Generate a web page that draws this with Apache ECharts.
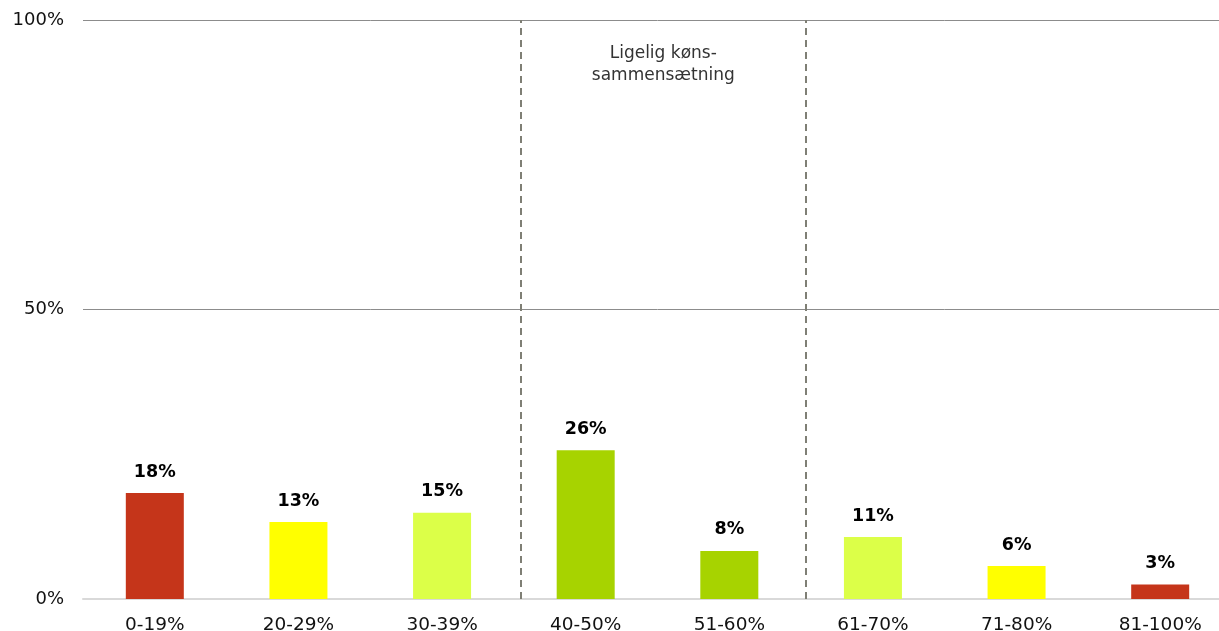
<!DOCTYPE html>
<html><head><meta charset="utf-8">
<script src="https://cdn.jsdelivr.net/npm/echarts@6/dist/echarts.min.js"></script>
<style>html,body{margin:0;padding:0;background:#fff;overflow:hidden}#c{width:1232px;height:631px}</style>
</head><body><div id="c"></div>
<script>
const categories = ['0-19%','20-29%','30-39%','40-50%','51-60%','61-70%','71-80%','81-100%'];
const values = [18.3, 13.3, 14.9, 25.7, 8.3, 10.7, 5.7, 2.5];
const barColors = ['#C5351A','#FFFF00','#DCFF48','#A7D300','#A7D300','#DCFF48','#FFFF00','#C5351A'];
const yTicks = [0, 50, 100];
const zoneBounds = [3.05, 5.03];
const zoneLabel = 'Ligelig køns-\nsammensætning';

const FONT = 'DejaVu Sans';
const chart = echarts.init(document.getElementById('c'));
chart.setOption({
  animation: false,
  grid: { left: 83, right: 0, top: 20, bottom: 32, containLabel: false, outerBoundsMode: 'none' },
  xAxis: [{
    type: 'category', data: categories,
    axisLine: { show: true, lineStyle: { color: '#d9d9d9', width: 2 } },
    axisTick: { show: false },
    axisLabel: { color: '#111', fontFamily: FONT, fontSize: 18.5, margin: 17 }
  }, {
    type: 'value', min: 0, max: 8, show: false
  }],
  yAxis: {
    type: 'value', min: yTicks[0], max: yTicks[yTicks.length-1], interval: 50,
    axisLine: { show: false }, axisTick: { show: false },
    axisLabel: { color: '#111', fontFamily: FONT, fontSize: 18, margin: 19, formatter: '{value}%' },
    splitLine: { lineStyle: { color: '#8c8c8c', width: 1 } }
  },
  series: [{
    type: 'bar', xAxisIndex: 0, barWidth: 58,
    data: values.map((v, i) => ({ value: v, itemStyle: { color: barColors[i] } })),
    label: { show: true, position: 'top', distance: 12, color: '#000', fontFamily: FONT, fontWeight: 'bold', fontSize: 17.5,
      formatter: p => Math.round(p.value) + '%' }
  }, {
    type: 'line', xAxisIndex: 1, data: [], silent: true,
    markLine: {
      symbol: 'none', silent: true,
      lineStyle: { type: [7, 5], color: '#7f7f75', width: 2 },
      label: { show: false },
      data: zoneBounds.map(b => ({ xAxis: b }))
    },
    markArea: {
      silent: true,
      itemStyle: { color: 'rgba(0,0,0,0)' },
      label: { show: true, position: 'insideTop', distance: 23, color: '#333', fontFamily: FONT, fontSize: 17, lineHeight: 22, align: 'center' },
      data: [[{ xAxis: zoneBounds[0], name: zoneLabel }, { xAxis: zoneBounds[1] }]]
    }
  }]
});
</script></body></html>
